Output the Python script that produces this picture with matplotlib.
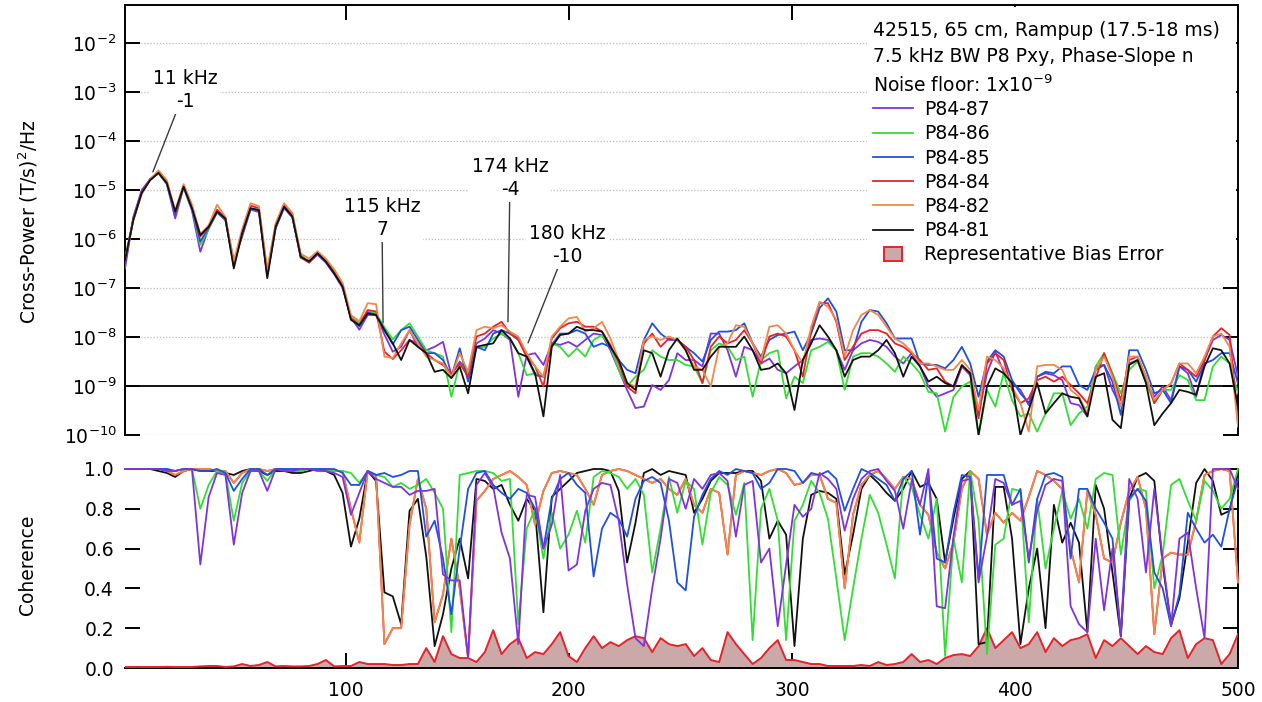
import numpy as np
import matplotlib
matplotlib.use("Agg")
import matplotlib.pyplot as plt
from matplotlib.lines import Line2D
from matplotlib.patches import Patch, Rectangle
from matplotlib.legend_handler import HandlerPatch
from matplotlib.ticker import NullLocator, FixedLocator

plt.rcParams['font.family'] = ['DejaVu Sans']
plt.rcParams['font.size'] = 13.5
plt.rcParams['mathtext.fontset'] = 'dejavusans'

# ---------------------------------------------------------------- data
# frequency grid (kHz)
freq_start, freq_stop, n_bins = 1.0, 500.0, 134
freq = np.linspace(freq_start, freq_stop, n_bins)

# cross-power spectra, log10 of (T/s)^2/Hz
xp_p8487 = [-6.60,-5.55,-5.00,-4.78,-4.66,-4.88,-5.58,-4.95,-5.42,-6.26,-5.78,-5.46,-5.62,-6.45,-5.95,-5.40,-5.45,-6.75,-5.78,-5.37,-5.56,-6.33,-6.48,-6.32,-6.48,-6.72,-7.00,-7.60,-7.85,-7.55,-7.55,-7.95,-8.30,
            -8.20,-7.86,-8.20,-8.27,-8.20,-8.10,-8.78,-8.50,-8.71,-8.13,-8.03,-7.86,-7.93,-8.06,-9.22,-8.37,-8.33,-8.57,-8.13,-8.16,-8.10,-8.20,-8.06,-7.93,-7.96,-8.27,-8.67,-9.08,-9.45,-9.42,-8.98,-9.08,-8.88,-8.33,-8.47,-8.47,-8.60,-7.93,-7.93,-8.27,-8.81,-8.20,-8.27,-8.54,-8.44,-8.67,-8.74,-8.60,-8.47,-8.06,-8.03,-8.06,-8.27,-8.67,
            -8.27,-8.13,-8.06,-8.10,-8.20,-8.40,-8.54,-8.33,-8.60,-9.01,-9.22,-9.15,-9.08,-8.60,-8.78,-9.56,-8.74,-8.30,-8.71,-8.94,-9.08,-9.39,-8.81,-8.74,-8.78,-8.88,-9.35,-9.39,-9.62,-8.60,-8.57,-9.08,-9.42,-8.54,-8.47,-8.91,-9.22,-9.01,-9.29,-8.60,-8.74,-9.22,-8.47,-8.06,-7.96,-8.06,-8.81]
xp_p8486 = [-6.40,-5.58,-5.05,-4.80,-4.66,-4.87,-5.48,-4.94,-5.38,-6.12,-5.80,-5.45,-5.60,-6.55,-5.90,-5.38,-5.42,-6.70,-5.76,-5.35,-5.55,-6.35,-6.45,-6.30,-6.45,-6.65,-6.92,-7.60,-7.70,-7.48,-7.52,-7.80,-8.05,
            -7.86,-7.72,-7.99,-8.27,-8.33,-8.40,-9.22,-8.54,-8.74,-8.23,-8.20,-8.03,-7.93,-8.03,-8.33,-8.78,-8.74,-8.81,-8.13,-8.20,-8.40,-8.23,-8.40,-8.06,-7.96,-8.20,-8.67,-9.01,-8.81,-8.67,-8.27,-8.40,-8.47,-8.47,-8.57,-8.60,-8.94,-8.27,-8.13,-8.20,-8.47,-8.40,-9.22,-8.47,-8.33,-8.27,-9.25,-8.81,-8.94,-8.27,-8.20,-8.10,-8.27,-9.08,
            -8.40,-8.33,-8.33,-8.40,-8.54,-8.71,-8.40,-8.54,-8.74,-9.12,-9.15,-9.93,-9.22,-9.01,-8.91,-10.0,-9.08,-9.42,-8.74,-9.29,-9.62,-9.56,-9.93,-9.56,-9.15,-9.15,-9.80,-9.56,-9.42,-8.60,-8.33,-8.74,-9.15,-8.67,-8.50,-8.91,-9.35,-9.08,-9.08,-8.78,-8.88,-9.29,-9.29,-8.60,-8.40,-8.54,-9.15]
xp_p8485 = [-6.50,-5.57,-5.03,-4.78,-4.64,-4.86,-5.50,-4.93,-5.37,-6.05,-5.77,-5.45,-5.60,-6.50,-5.92,-5.38,-5.42,-6.72,-5.77,-5.35,-5.55,-6.38,-6.45,-6.30,-6.47,-6.70,-6.95,-7.62,-7.78,-7.50,-7.55,-7.85,-8.15,
            -7.86,-7.79,-8.06,-8.33,-8.33,-8.47,-8.81,-8.23,-8.91,-8.20,-8.27,-7.93,-7.86,-7.93,-8.03,-8.40,-8.78,-8.81,-8.16,-7.93,-7.93,-7.86,-7.93,-8.20,-8.13,-8.20,-8.47,-8.67,-8.74,-8.06,-7.72,-7.93,-8.06,-8.06,-8.20,-8.33,-8.50,-8.06,-7.89,-7.89,-7.86,-7.72,-8.13,-8.40,-8.06,-7.96,-7.93,-7.89,-8.27,-7.93,-7.41,-7.21,-7.48,-8.27,
            -8.27,-7.69,-7.45,-7.48,-7.72,-8.03,-8.03,-8.03,-8.54,-8.57,-8.57,-8.64,-8.47,-8.20,-8.54,-9.22,-8.50,-8.27,-8.40,-8.88,-9.15,-9.35,-8.81,-8.71,-8.74,-8.60,-8.60,-8.98,-9.08,-8.67,-8.57,-8.91,-9.59,-8.27,-8.27,-8.67,-9.15,-9.08,-9.35,-8.60,-8.67,-8.91,-8.54,-8.47,-8.33,-8.33,-8.95]
xp_p8484 = [-6.45,-5.60,-5.05,-4.78,-4.63,-4.84,-5.45,-4.91,-5.33,-5.95,-5.75,-5.40,-5.57,-6.55,-5.85,-5.32,-5.37,-6.70,-5.72,-5.30,-5.50,-6.38,-6.48,-6.28,-6.45,-6.68,-6.95,-7.62,-7.75,-7.45,-7.48,-8.30,-8.45,
            -8.27,-8.06,-8.13,-8.33,-8.47,-8.57,-8.74,-8.54,-8.81,-7.99,-7.93,-7.79,-7.69,-7.93,-8.06,-8.40,-8.60,-9.01,-8.03,-7.82,-7.72,-7.69,-7.79,-7.79,-7.89,-8.16,-8.54,-9.01,-9.15,-8.13,-7.93,-8.20,-8.03,-8.06,-8.20,-8.47,-8.94,-8.20,-7.99,-8.13,-8.06,-7.86,-8.13,-8.54,-7.99,-7.93,-7.99,-8.27,-8.81,-7.86,-7.31,-7.31,-7.69,-8.47,
            -8.20,-7.93,-7.86,-7.86,-7.93,-8.13,-8.20,-8.33,-8.47,-8.67,-8.64,-8.91,-9.01,-8.60,-8.74,-9.66,-8.54,-8.33,-8.47,-9.08,-9.35,-9.25,-8.88,-8.81,-8.91,-8.81,-8.98,-9.15,-9.35,-8.84,-8.33,-8.78,-9.29,-8.47,-8.40,-8.81,-9.35,-9.08,-8.95,-8.54,-8.67,-8.81,-8.47,-7.99,-7.82,-7.96,-9.76]
xp_p8482 = [-6.42,-5.62,-5.08,-4.79,-4.60,-4.80,-5.42,-4.88,-5.30,-5.90,-5.72,-5.30,-5.55,-6.45,-5.80,-5.27,-5.33,-6.62,-5.68,-5.27,-5.47,-6.30,-6.40,-6.25,-6.40,-6.62,-6.90,-7.55,-7.68,-7.31,-7.33,-8.40,-8.43,
            -8.13,-7.86,-8.13,-8.40,-8.47,-8.54,-8.81,-8.33,-8.71,-7.86,-7.79,-7.82,-7.76,-7.89,-7.99,-8.33,-8.60,-8.81,-7.99,-7.79,-7.62,-7.59,-7.89,-7.82,-7.69,-8.03,-8.47,-8.94,-9.01,-8.06,-7.99,-8.06,-7.99,-8.06,-8.27,-8.60,-8.67,-9.01,-8.20,-8.13,-7.76,-7.79,-8.13,-8.47,-7.79,-7.76,-7.93,-8.27,-8.54,-7.79,-7.28,-7.38,-7.65,-8.40,
            -7.86,-7.55,-7.45,-7.55,-7.79,-8.03,-8.13,-8.30,-8.54,-8.54,-8.60,-8.67,-8.67,-8.47,-8.67,-9.49,-8.40,-8.47,-8.64,-9.01,-9.35,-9.93,-8.60,-8.57,-8.57,-8.67,-9.08,-9.22,-9.56,-8.67,-8.40,-8.81,-9.42,-8.40,-8.40,-8.81,-9.29,-9.08,-8.95,-8.54,-8.54,-8.74,-8.40,-7.99,-7.93,-8.20,-9.83]
xp_p8481 = [-6.43,-5.61,-5.06,-4.80,-4.65,-4.86,-5.44,-4.93,-5.37,-5.92,-5.75,-5.44,-5.58,-6.60,-5.88,-5.37,-5.41,-6.80,-5.75,-5.34,-5.54,-6.36,-6.46,-6.29,-6.46,-6.70,-6.97,-7.65,-7.76,-7.52,-7.55,-7.86,-8.13,
            -8.47,-8.06,-8.20,-8.33,-8.71,-8.67,-8.84,-8.61,-9.15,-8.20,-8.16,-8.13,-7.86,-8.03,-8.33,-8.40,-8.74,-9.62,-8.20,-7.96,-7.93,-7.79,-7.86,-7.86,-7.89,-8.20,-8.47,-8.94,-9.08,-8.27,-8.33,-8.81,-8.27,-8.03,-8.27,-8.67,-8.67,-8.40,-8.20,-8.20,-8.20,-7.99,-8.27,-8.67,-8.64,-8.54,-8.74,-9.49,-8.47,-8.13,-7.76,-7.99,-8.27,-8.81,
            -8.47,-8.40,-8.40,-8.27,-8.06,-8.33,-8.81,-8.40,-8.60,-8.91,-8.81,-8.94,-9.01,-8.57,-8.74,-10.0,-9.01,-8.64,-8.74,-8.94,-10.0,-9.49,-8.94,-9.56,-9.35,-9.15,-9.22,-9.25,-9.62,-8.81,-8.74,-9.69,-9.86,-8.57,-8.47,-8.94,-9.80,-9.56,-9.35,-9.08,-9.12,-9.18,-8.60,-8.23,-8.27,-8.54,-9.42]

# coherence
coh_p8487 = [1.0,1.0,1.0,1.0,1.0,0.99,0.99,1.0,1.0,0.52, 0.86,0.98,0.97,0.62,0.88,0.99,0.99,0.89,1.0,0.99,
             0.99,1.0,1.0,0.99,0.99,0.98,0.96,0.77,0.88,0.99, 0.95,0.93,0.91,0.91,0.87,0.89,0.89,0.90,0.47,0.44,
             0.44,0.05,0.92,0.98,0.91,0.68,0.55,0.12,0.87,0.86, 0.60,0.72,0.97,0.49,0.52,0.79,0.90,0.93,0.92,0.74,
             0.42,0.15,0.11,0.40,0.65,0.95,0.93,0.80,0.95,0.90, 0.97,0.98,0.94,0.66,0.92,0.94,0.53,0.60,0.21,0.52,
             0.82,0.76,0.80,0.98,0.95,0.90,0.69,0.85,0.95,0.99, 1.0,0.94,0.89,0.70,0.94,0.82,1.0,0.31,0.30,0.66,
             0.94,0.95,0.43,0.66,0.95,0.93,0.82,0.84,0.55,0.79, 0.92,0.95,0.94,0.31,0.22,0.18,0.65,0.29,0.60,0.17,
             0.95,0.85,0.48,0.90,0.55,0.21,0.65,0.68,0.40,0.15, 1.0,1.0,1.0,0.90]
coh_p8486 = [1.0,1.0,1.0,1.0,1.0,1.0,0.99,1.0,1.0,0.80, 0.92,0.99,0.98,0.74,0.93,0.99,0.99,0.94,1.0,1.0,
             1.0,0.99,1.0,1.0,1.0,0.99,0.99,0.98,0.93,0.99, 0.97,0.96,0.91,0.93,0.90,0.92,0.95,0.88,0.80,0.18,
             0.97,0.98,0.99,0.99,0.98,0.94,0.95,0.22,0.70,0.80, 0.55,0.78,0.60,0.67,0.79,0.63,0.96,0.99,0.98,0.96,
             0.90,0.95,0.87,0.48,0.70,0.96,0.78,0.94,0.90,0.62, 0.88,0.96,0.92,0.77,0.93,0.14,0.80,0.90,0.74,0.14,
             0.74,0.82,0.94,0.88,0.75,0.45,0.14,0.40,0.65,0.87, 0.78,0.62,0.45,0.96,0.91,0.77,0.65,0.85,0.06,0.65,
             0.43,0.99,0.74,0.07,0.62,0.65,0.90,0.89,0.23,0.85, 0.50,0.70,0.89,0.75,0.85,0.70,0.95,0.98,0.97,0.57,
             0.84,0.90,0.89,0.40,0.57,0.92,0.95,0.84,0.74,0.94, 0.89,0.80,0.85,1.0]
coh_p8485 = [1.0,1.0,1.0,1.0,1.0,1.0,0.99,1.0,1.0,0.99, 0.99,1.0,0.98,0.89,0.95,1.0,1.0,0.97,1.0,1.0,
             1.0,1.0,1.0,1.0,1.0,1.0,0.98,0.92,0.92,0.99, 0.97,0.98,0.96,0.97,0.99,0.99,0.66,0.74,0.55,0.27,
             0.60,0.90,0.98,0.99,0.92,0.88,0.85,0.90,0.88,0.80, 0.60,0.85,0.95,0.98,0.92,0.88,0.46,0.70,0.78,0.75,
             0.66,0.85,0.94,0.96,0.93,0.74,0.43,0.39,0.76,0.87, 0.95,0.99,0.97,1.0,0.99,0.98,0.90,0.93,1.0,1.0,
             0.99,0.93,0.98,0.97,0.99,0.95,0.79,0.90,1.0,0.98, 0.95,0.92,0.84,0.95,0.99,0.67,0.97,0.55,0.53,0.78,
             0.97,0.96,0.45,0.97,0.97,0.97,0.82,0.90,0.53,0.85, 0.97,0.98,0.96,0.55,0.90,0.90,0.80,0.73,0.65,0.16,
             0.85,0.90,0.84,0.48,0.40,0.21,0.37,0.78,0.70,0.63, 0.67,0.61,0.80,0.95]
coh_p8482 = [1.0,1.0,1.0,1.0,1.0,0.99,0.97,0.99,1.0,1.0, 1.0,0.99,0.99,0.93,0.98,1.0,1.0,0.99,1.0,1.0,
             0.99,0.99,1.0,1.0,1.0,0.99,0.99,0.80,0.63,0.99, 0.97,0.12,0.20,0.20,0.72,0.95,0.80,0.23,0.37,0.65,
             0.40,0.05,0.84,0.89,0.95,0.97,0.99,0.96,0.92,0.72, 0.89,0.98,0.99,0.98,0.97,0.90,0.82,0.97,0.99,1.0,
             0.99,0.97,0.95,0.93,0.95,0.90,0.87,0.95,0.82,0.78, 0.90,0.88,0.57,0.97,0.99,0.98,0.97,0.99,1.0,0.98,
             0.92,0.93,0.97,0.97,0.85,0.83,0.40,0.77,0.92,0.97, 0.99,0.95,0.90,0.96,0.95,0.82,0.77,0.58,0.50,0.63,
             0.90,0.99,0.95,0.67,0.78,0.73,0.78,0.74,0.86,0.99, 0.97,0.94,0.90,0.60,0.43,0.89,0.77,0.55,0.53,0.73,
             0.89,0.96,0.80,0.17,0.55,0.58,0.57,0.57,0.74,0.97, 0.99,1.0,0.99,0.43]
# P84-84 coherence runs on top of P84-82 over the whole band
coh_p8484 = list(coh_p8482)
coh_p8481 = [1.0,1.0,1.0,1.0,0.99,0.98,0.96,0.99,1.0,0.99, 0.99,0.99,0.98,0.97,0.99,1.0,0.99,0.97,0.99,0.99,
             0.98,0.98,0.99,1.0,0.99,0.97,0.88,0.61,0.75,0.99, 0.94,0.38,0.36,0.22,0.79,0.85,0.56,0.11,0.27,0.50,
             0.65,0.45,0.95,0.94,0.90,0.92,0.82,0.74,0.85,0.79, 0.28,0.86,0.90,0.94,0.98,0.99,1.0,1.0,0.99,0.89,
             0.53,0.73,0.98,1.0,0.97,0.99,0.98,0.97,0.78,0.85, 0.94,0.98,0.98,0.98,0.99,0.99,0.94,0.65,0.74,0.67,
             0.11,0.65,0.87,0.89,0.88,0.85,0.47,0.67,0.90,0.97, 0.93,0.88,0.84,0.90,0.99,0.91,0.93,0.85,0.53,0.75,
             0.95,0.99,0.12,0.13,0.91,0.91,0.65,0.12,0.40,0.60, 0.20,0.82,0.63,0.73,0.63,0.18,0.92,0.80,0.48,0.16,
             0.85,0.96,0.98,0.94,0.52,0.22,0.35,0.63,0.93,1.0, 0.94,0.77,0.79,0.99]

# representative bias error of the coherence estimate
bias_err = [0.005,0.005,0.005,0.005,0.005,0.006,0.005,0.005,0.005,0.008, 0.010,0.010,0.005,0.008,0.020,0.010,0.015,0.030,0.008,0.010,
            0.008,0.008,0.010,0.020,0.040,0.008,0.010,0.010,0.030,0.020, 0.020,0.020,0.015,0.015,0.020,0.020,0.100,0.030,0.160,0.070,
            0.050,0.050,0.030,0.080,0.190,0.070,0.120,0.150,0.050,0.080, 0.070,0.120,0.180,0.060,0.030,0.100,0.160,0.100,0.130,0.110,
            0.140,0.160,0.150,0.080,0.150,0.120,0.110,0.120,0.060,0.100, 0.040,0.030,0.180,0.120,0.070,0.020,0.050,0.100,0.140,0.040,
            0.040,0.030,0.020,0.020,0.010,0.010,0.010,0.010,0.015,0.010, 0.030,0.015,0.020,0.030,0.070,0.030,0.040,0.020,0.050,0.065,
            0.070,0.060,0.110,0.200,0.100,0.140,0.180,0.100,0.120,0.180, 0.080,0.150,0.110,0.140,0.150,0.170,0.050,0.140,0.110,0.150,
            0.110,0.070,0.110,0.080,0.070,0.150,0.190,0.050,0.120,0.150, 0.140,0.020,0.070,0.170]

labels = ['P84-87', 'P84-86', 'P84-85', 'P84-84', 'P84-82', 'P84-81']
colors = ['#8033DD', '#33DD33', '#2050E0', '#E8222A', '#F0884A', '#111111']
xpower = [xp_p8487, xp_p8486, xp_p8485, xp_p8484, xp_p8482, xp_p8481]
coher = [coh_p8487, coh_p8486, coh_p8485, coh_p8484, coh_p8482, coh_p8481]

noise_floor = 1e-9
decade_ticks = [1e-10, 1e-9, 1e-8, 1e-7, 1e-6, 1e-5, 1e-4, 1e-3, 1e-2]
freq_ticks = [100, 200, 300, 400, 500]

for arr in xpower + coher + [bias_err]:
    assert len(arr) == n_bins

# ---------------------------------------------------------------- figure
W, H = 1262, 702
fig = plt.figure(figsize=(W / 100, H / 100), dpi=100)


def px_box(x0, y0, x1, y1):
    return [x0 / W, 1 - y1 / H, (x1 - x0) / W, (y1 - y0) / H]


ax1 = fig.add_axes(px_box(125, 5, 1238, 435))
ax2 = fig.add_axes(px_box(125, 469, 1238, 668))

spine_w = 1.4
tick_len = 10.5

# --- cross-power panel
ax1.set_yscale('log')
ax1.set_xlim(freq_start, freq_stop)
ax1.set_ylim(1e-10, 10 ** -1.224)
for d in decade_ticks:
    if d != noise_floor:
        ax1.axhline(d, color='#b8bdc8', lw=0.9, ls=(0, (1, 1.5)), zorder=1)
ax1.axhline(noise_floor, color='black', lw=1.3, zorder=2.5)

for vals, c in zip(xpower, colors):
    ax1.plot(freq, 10.0 ** np.asarray(vals), color=c, lw=1.3, zorder=3)

ax1.yaxis.set_major_locator(FixedLocator(decade_ticks))
ax1.yaxis.set_minor_locator(NullLocator())
ax1.xaxis.set_major_locator(FixedLocator(freq_ticks))
ax1.xaxis.set_minor_locator(NullLocator())
ax1.tick_params(axis='y', which='major', direction='in', length=tick_len, width=spine_w,
                left=True, right=True, labelleft=True, labelright=False, pad=6)
ax1.tick_params(axis='x', which='major', direction='in', length=tick_len, width=spine_w,
                top=True, bottom=False, labeltop=False, labelbottom=False)
ax1.spines['bottom'].set_visible(False)
for s in ('left', 'right', 'top'):
    ax1.spines[s].set_linewidth(spine_w)

# white panel under the legend block
ax1.add_patch(Rectangle((0.667, 0.39), 0.331, 0.605, transform=ax1.transAxes,
                        facecolor='white', edgecolor='none', zorder=2))

ann = dict(ha='center', va='center', linespacing=1.3, fontsize=13.5,
           bbox=dict(boxstyle='square,pad=0.15', fc='white', ec='none'),
           arrowprops=dict(arrowstyle='-', color='#3a3a3a', lw=1.0, shrinkA=0, shrinkB=0),
           zorder=4)
ax1.annotate('11 kHz\n-1', xy=(13.5, 10 ** -4.63), xytext=(27.9, 10 ** -2.96), **ann)
ax1.annotate('115 kHz\n7', xy=(116.7, 10 ** -7.71), xytext=(116.2, 10 ** -5.57), **ann)
ax1.annotate('174 kHz\n-4', xy=(172.7, 10 ** -7.69), xytext=(173.6, 10 ** -4.755), **ann)
ax1.annotate('180 kHz\n-10', xy=(181.7, 10 ** -8.12), xytext=(199.2, 10 ** -6.12), **ann)

# --- coherence panel
ax2.set_xlim(freq_start, freq_stop)
ax2.set_ylim(0, 1.0)
ax2.fill_between(freq, 0, bias_err, facecolor='#CBA9A9', edgecolor='none', zorder=2)
ax2.plot(freq, bias_err, color='#E8222A', lw=1.4, zorder=2.6)
draw_order = [5, 3, 4, 1, 2, 0]
for i in draw_order:
    ax2.plot(freq, coher[i], color=colors[i], lw=1.3, zorder=3 + 0.1 * draw_order.index(i),
             clip_on=False)

ax2.xaxis.set_major_locator(FixedLocator(freq_ticks))
ax2.xaxis.set_minor_locator(NullLocator())
ax2.set_xticklabels([str(t) for t in freq_ticks])
ax2.set_yticks([0.0, 0.2, 0.4, 0.6, 0.8, 1.0])
ax2.set_yticklabels(['0.0', '0.2', '0.4', '0.6', '0.8', '1.0'])
ax2.tick_params(axis='y', direction='in', length=tick_len, width=spine_w,
                left=True, right=True, pad=8)
ax2.tick_params(axis='x', direction='in', length=tick_len, width=spine_w,
                top=False, bottom=True, pad=9)
ax2.spines['left'].set_visible(False)
ax2.spines['top'].set_visible(False)
for s in ('right', 'bottom'):
    ax2.spines[s].set_linewidth(spine_w)

# --- axis titles
fig.text(28 / W, 1 - 222 / H, 'Cross-Power (T/s)$^2$/Hz', rotation=90,
         ha='center', va='center', fontsize=13.5)
fig.text(28 / W, 1 - 565 / H, 'Coherence', rotation=90,
         ha='center', va='center', fontsize=13.5)

# --- legend block
fig.text(873 / W, 1 - 30 / H, '42515, 65 cm, Rampup (17.5-18 ms)', va='center', fontsize=13.5)
fig.text(873 / W, 1 - 56 / H, '7.5 kHz BW P8 Pxy, Phase-Slope n', va='center', fontsize=13.5)
fig.text(873 / W, 1 - 85 / H, 'Noise floor: 1x10$^{-9}$', va='center', fontsize=13.5)

handles = [Line2D([], [], color=c, lw=1.3) for c in colors]
handles.append(Patch(facecolor='#CBA9A9', edgecolor='#E8222A', lw=1.4))


def small_box(legend, orig_handle, xdescent, ydescent, width, height, fontsize):
    w = 0.45 * width
    return Rectangle((-xdescent + (width - w) / 2, -ydescent), w, height)


fig.legend(handles, labels + ['Representative Bias Error'],
           loc='upper left', bbox_to_anchor=(873 / W, 1 - 100 / H),
           frameon=False, fontsize=13.5, handlelength=2.15, handletextpad=0.55,
           labelspacing=0.28, borderpad=0, borderaxespad=0,
           handler_map={Patch: HandlerPatch(patch_func=small_box)})

fig.savefig('out.png', dpi=100, facecolor='white')
